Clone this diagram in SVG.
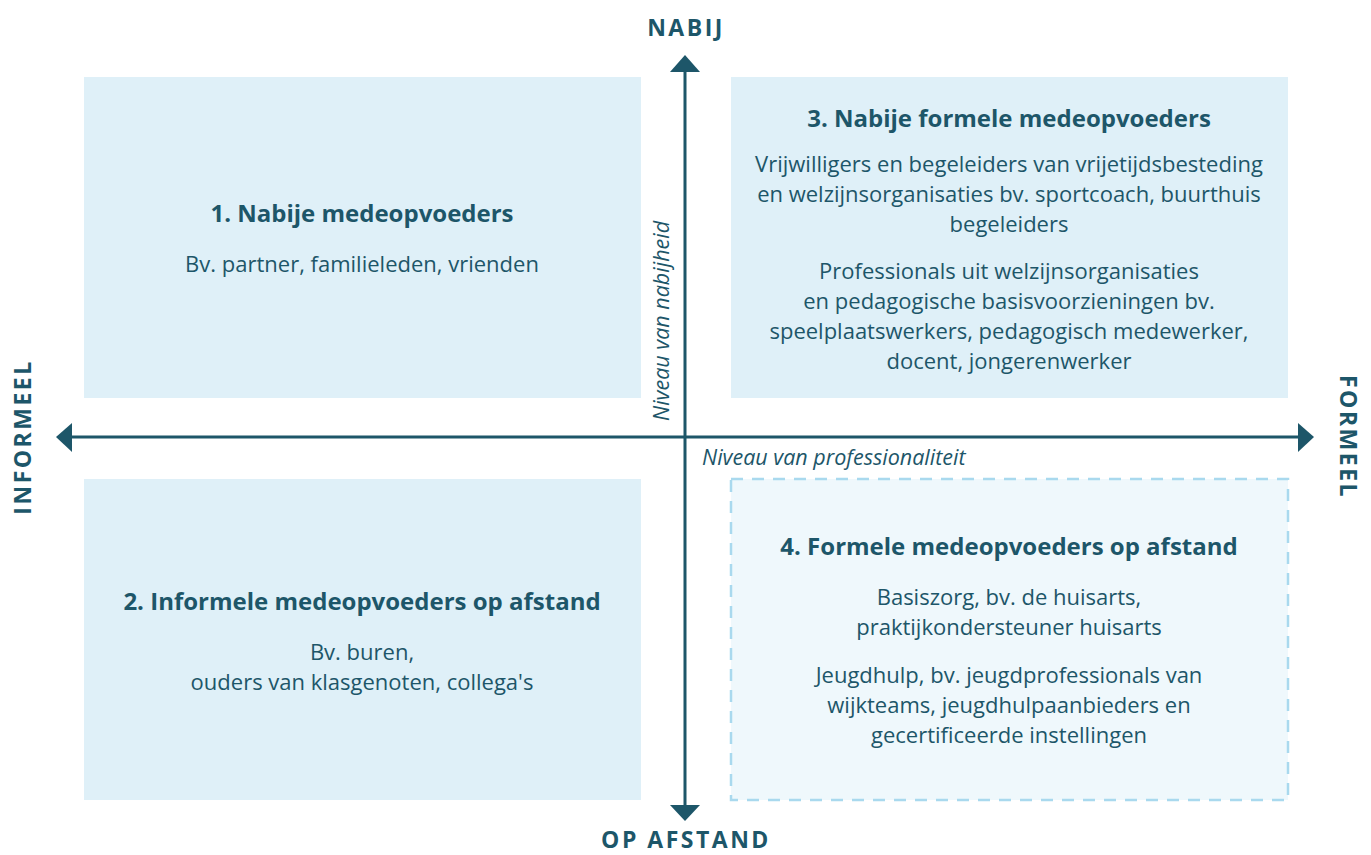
<svg xmlns="http://www.w3.org/2000/svg" width="1371" height="855" viewBox="0 0 1371 855">
<style>
.box{fill:#dff0f8}
.boxd{fill:#eff8fc;stroke:#a9d9ee;stroke-width:2.5;stroke-dasharray:12 9}
.t{font-family:"Open Sans","Liberation Sans",sans-serif;fill:#1d5669;text-anchor:middle}
.h{font-size:24px;font-weight:bold}
.b{font-size:22px}
.ax{font-family:"Open Sans","Liberation Sans",sans-serif;fill:#1d5669;font-size:23px;font-weight:bold;letter-spacing:2.5px;text-anchor:middle}
.it{font-family:"Open Sans","Liberation Sans",sans-serif;fill:#1d5669;font-size:21.5px;font-style:italic}
.axis{stroke:#1d5669;stroke-width:3;fill:none}
.ah{fill:#1d5669}
</style>
<rect width="1371" height="855" fill="#ffffff"/>
<g id="q1">
<rect class="box" x="84" y="77" width="557" height="321"/>
<text class="t h" x="362" y="222">1. Nabije medeopvoeders</text>
<text class="t b" x="362" y="272">Bv. partner, familieleden, vrienden</text>
</g>
<g id="q3">
<rect class="box" x="731" y="77" width="557" height="321"/>
<text class="t h" x="1009" y="127">3. Nabije formele medeopvoeders</text>
<text class="t b" x="1009" y="172">Vrijwilligers en begeleiders van vrijetijdsbesteding</text>
<text class="t b" x="1009" y="202">en welzijnsorganisaties bv. sportcoach, buurthuis</text>
<text class="t b" x="1009" y="232">begeleiders</text>
<text class="t b" x="1009" y="279">Professionals uit welzijnsorganisaties</text>
<text class="t b" x="1009" y="309">en pedagogische basisvoorzieningen bv.</text>
<text class="t b" x="1009" y="339">speelplaatswerkers, pedagogisch medewerker,</text>
<text class="t b" x="1009" y="369">docent, jongerenwerker</text>
</g>
<g id="q2">
<rect class="box" x="84" y="479" width="557" height="321"/>
<text class="t h" x="362" y="610">2. Informele medeopvoeders op afstand</text>
<text class="t b" x="362" y="660">Bv. buren,</text>
<text class="t b" x="362" y="690">ouders van klasgenoten, collega's</text>
</g>
<g id="q4">
<rect class="boxd" x="731" y="479" width="557" height="321"/>
<text class="t h" x="1009" y="555">4. Formele medeopvoeders op afstand</text>
<text class="t b" x="1009" y="605">Basiszorg, bv. de huisarts,</text>
<text class="t b" x="1009" y="635">praktijkondersteuner huisarts</text>
<text class="t b" x="1009" y="683">Jeugdhulp, bv. jeugdprofessionals van</text>
<text class="t b" x="1009" y="713">wijkteams, jeugdhulpaanbieders en</text>
<text class="t b" x="1009" y="743">gecertificeerde instellingen</text>
</g>
<g id="axes">
<line class="axis" x1="685" y1="70" x2="685" y2="807"/>
<line class="axis" x1="70" y1="437" x2="1300" y2="437"/>
<polygon class="ah" points="685,55 700,72 670,72"/>
<polygon class="ah" points="685,821 700,805 670,805"/>
<polygon class="ah" points="56,437 72,423 72,452"/>
<polygon class="ah" points="1314,437 1298,423 1298,452"/>
</g>
<g id="labels">
<text class="ax" x="686" y="36">NABIJ</text>
<text class="ax" x="686" y="848">OP AFSTAND</text>
<text class="ax" transform="translate(31,437) rotate(-90)">INFORMEEL</text>
<text class="ax" transform="translate(1340,437) rotate(90)">FORMEEL</text>
<text class="it" transform="translate(669,421) rotate(-90)">Niveau van nabijheid</text>
<text class="it" x="702" y="465">Niveau van professionaliteit</text>
</g>
</svg>
